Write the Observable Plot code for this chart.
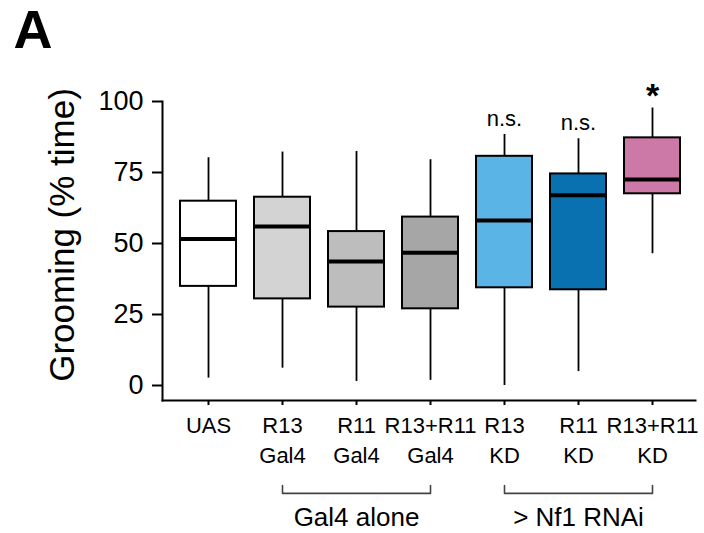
<!DOCTYPE html>
<html>
<head>
<meta charset="utf-8">
<script src="https://cdn.jsdelivr.net/npm/d3@7"></script>
<script src="https://cdn.jsdelivr.net/npm/@observablehq/plot@0.6"></script>
<style>
  html, body { margin: 0; padding: 0; background: white; }
</style>
</head>
<body>
<div id="chart"></div>
<script>
// ---- data ----
const categories = ["UAS", "R13\nGal4", "R11\nGal4", "R13+R11\nGal4", "R13\nKD", "R11\nKD", "R13+R11\nKD"];
const whiskerLow  = [2.6, 6.1, 1.4, 1.8, 0.0, 4.9, 46.4];
const quartile1   = [34.9, 30.5, 27.6, 27.0, 34.4, 33.7, 67.5];
const medians     = [51.6, 56.0, 43.7, 46.7, 58.1, 67.0, 72.5];
const quartile3   = [64.9, 66.3, 54.2, 59.3, 80.7, 74.5, 87.2];
const whiskerHigh = [80.2, 82.2, 82.4, 79.5, 88.4, 86.9, 97.7];
const boxColors   = ["#ffffff", "#d3d3d3", "#bdbdbd", "#a6a6a6", "#5ab4e6", "#0a71b1", "#cc79a7"];
const yTicks = [0, 25, 50, 75, 100];

const sigGroups = ["R13\nKD", "R11\nKD", "R13+R11\nKD"];
const sigLabels = ["n.s.", "n.s.", "*"];

const groupLabels = ["Gal4 alone", "> Nf1 RNAi"];
const groupFrom   = ["R13\nGal4", "R13\nKD"];
const groupMid    = ["R11\nGal4", "R11\nKD"];
const groupTo     = ["R13+R11\nGal4", "R13+R11\nKD"];

const panelLetter = "A";
const yTitle = "Grooming (% time)";

// ---- tables built from the arrays ----
const boxes = categories.map((c, i) => ({
  cat: c, lo: whiskerLow[i], q1: quartile1[i], med: medians[i],
  q3: quartile3[i], hi: whiskerHigh[i], fill: boxColors[i]
}));
const sig = sigGroups.map((g, i) => ({
  cat: g, label: sigLabels[i], hi: whiskerHigh[categories.indexOf(g)]
}));
// bracket geometry below the axis (in y units)
const bracketBar = -38, bracketTip = -35.2, groupTextY = -49.3;
const bracketPts = groupLabels.flatMap((g, i) => [
  {g, x: groupFrom[i], y: bracketTip},
  {g, x: groupFrom[i], y: bracketBar},
  {g, x: groupTo[i], y: bracketBar},
  {g, x: groupTo[i], y: bracketTip}
]);
const groupText = groupLabels.map((g, i) => ({label: g, x: groupMid[i]}));

const font = "'Liberation Sans', Arial, Helvetica, sans-serif";

const chart = Plot.plot({
  width: 704,
  height: 533,
  marginLeft: 162,
  marginRight: 9,
  marginTop: 101,
  marginBottom: 133,
  style: {fontFamily: font, background: "white", color: "black", overflow: "visible"},
  x: {type: "band", domain: categories, paddingInner: 0.25, paddingOuter: 0.2, insetLeft: 2, label: null},
  y: {domain: [0, 100], insetBottom: 15, label: null},
  color: {type: "identity"},
  marks: [
    Plot.frame({anchor: "left", strokeWidth: 2}),
    Plot.frame({anchor: "bottom", strokeWidth: 2}),
    Plot.axisY({ticks: yTicks, tickSize: 10, tickPadding: 9, fontSize: 27, strokeWidth: 2, label: null}),
    Plot.axisX({tickSize: 5, tickPadding: 6, fontSize: 22, lineHeight: 30 / 22, strokeWidth: 2, label: null}),
    Plot.ruleX(boxes, {x: "cat", y1: "lo", y2: "hi", strokeWidth: 1.8, stroke: "black"}),
    Plot.barY(boxes, {x: "cat", y1: "q1", y2: "q3", fill: "fill", stroke: "black", strokeWidth: 2}),
    Plot.tickY(boxes, {x: "cat", y: "med", stroke: "black", strokeWidth: 4}),
    Plot.text(sig.filter(d => d.label !== "*"), {x: "cat", y: "hi", text: "label", lineAnchor: "top", dy: -24, fontSize: 22}),
    Plot.text(sig.filter(d => d.label === "*"), {x: "cat", y: "hi", text: "label", lineAnchor: "top", dy: -25, fontSize: 34, fontWeight: "bold"}),
    Plot.line(bracketPts, {x: "x", y: "y", z: "g", stroke: "#444", strokeWidth: 1.6}),
    Plot.text(groupText, {x: "x", y: () => groupTextY, text: "label", lineAnchor: "bottom", fontSize: 26}),
    Plot.text([yTitle], {frameAnchor: "left", text: d => d, textAnchor: "middle", lineAnchor: "middle", rotate: -90, dx: -100, dy: -16, fontSize: 35}),
    Plot.text([panelLetter], {frameAnchor: "top-left", text: d => d, textAnchor: "start", lineAnchor: "top", dx: -149, dy: -92, fontSize: 54, fontWeight: "bold"})
  ]
});
document.getElementById("chart").appendChild(chart);
</script>
</body>
</html>
